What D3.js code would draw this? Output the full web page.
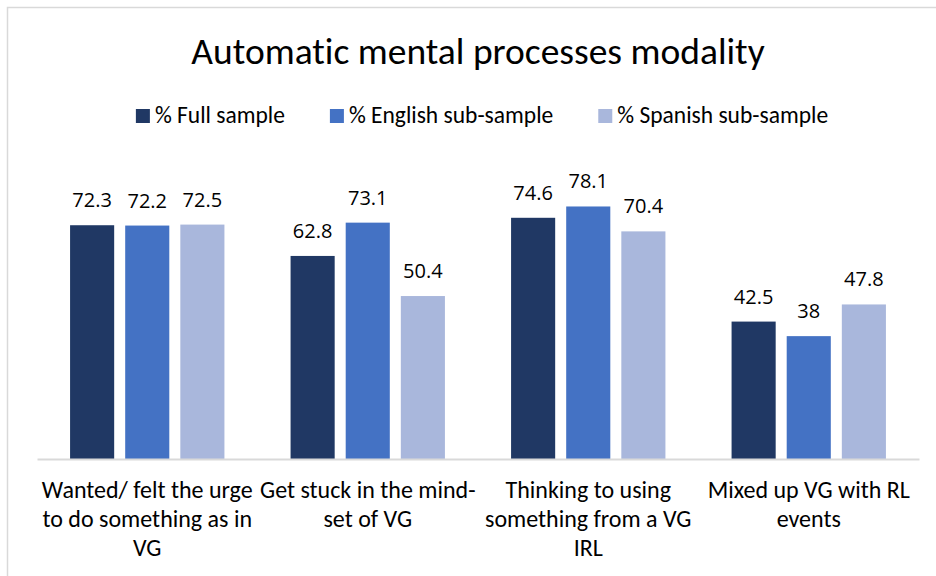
<!DOCTYPE html>
<html>
<head>
<meta charset="utf-8">
<script src="https://cdn.jsdelivr.net/npm/d3@7"></script>
<style>
  body { margin: 0; background: #fff; }
  svg { display: block; }
  .narrow { font-family: Carlito, Calibri, "Liberation Sans Narrow", "DejaVu Sans Condensed", "Open Sans", sans-serif; font-variant-ligatures: none; }
</style>
</head>
<body>
<div id="chart-container"></div>
<script>
// Chart data
const categories = [
  'Wanted/ felt the urge|to do something as in|VG',
  'Get stuck in the mind-|set of VG',
  'Thinking to using|something from a VG|IRL',
  'Mixed up VG with RL|events'
];
const seriesNames = ['% Full sample', '% English sub-sample', '% Spanish sub-sample'];
const fullSample = [72.3, 62.8, 74.6, 42.5];
const englishSample = [72.2, 73.1, 78.1, 38];
const spanishSample = [72.5, 50.4, 70.4, 47.8];
const seriesValues = [fullSample, englishSample, spanishSample];
const colors = ['#203864', '#4472c4', '#a9b7dc'];

const width = 936;
const height = 576;
const margin = { top: 168, right: 17, bottom: 117, left: 37 };

const svg = d3.select('#chart-container')
  .append('svg')
  .attr('width', width)
  .attr('height', height);

// Chart frame
svg.append('rect')
  .attr('x', 7.5)
  .attr('y', 7.5)
  .attr('width', 940)
  .attr('height', 600)
  .attr('fill', '#fff')
  .attr('stroke', '#d9d9d9')
  .attr('stroke-width', 1.5);

// Title
svg.append('text')
  .attr('class', 'narrow')
  .attr('x', 478)
  .attr('y', 64)
  .attr('text-anchor', 'middle')
  .style('font-size', '37.5px')
  .attr('fill', '#000')
  .text('Automatic mental processes modality');

// Scales
const xScale = d3.scaleBand()
  .domain(categories)
  .range([margin.left, width - margin.right])
  .paddingInner(0.3)
  .paddingOuter(0.15);

const xInner = d3.scaleBand()
  .domain(d3.range(seriesNames.length))
  .range([0, xScale.bandwidth()])
  .paddingInner(0.2);

const yScale = d3.scaleLinear()
  .domain([0, 90])
  .range([height - margin.bottom, margin.top]);

// Bars
const groups = svg.append('g')
  .selectAll('g')
  .data(categories)
  .join('g')
  .attr('transform', d => `translate(${xScale(d)},0)`);

groups.selectAll('rect')
  .data((d, i) => seriesValues.map((vals, s) => ({ s, v: vals[i] })))
  .join('rect')
  .attr('x', d => xInner(d.s))
  .attr('y', d => yScale(d.v))
  .attr('width', xInner.bandwidth())
  .attr('height', d => yScale(0) - yScale(d.v))
  .attr('fill', d => colors[d.s]);

// Value labels
groups.selectAll('text.value')
  .data((d, i) => seriesValues.map((vals, s) => ({ s, v: vals[i] })))
  .join('text')
  .attr('class', 'value')
  .attr('x', d => xInner(d.s) + xInner.bandwidth() / 2)
  .attr('y', d => yScale(d.v) - 18)
  .attr('text-anchor', 'middle')
  .style('font-family', '"Open Sans", sans-serif')
  .style('font-size', '20px')
  .attr('fill', '#000')
  .text(d => d.v);

// Category axis
const xAxis = svg.append('g')
  .attr('transform', `translate(0,${yScale(0)})`)
  .call(d3.axisBottom(xScale).tickSize(0).tickFormat(''));

xAxis.select('.domain')
  .attr('stroke', '#d9d9d9')
  .attr('stroke-width', 2);

xAxis.selectAll('.tick')
  .append('text')
  .attr('class', 'narrow')
  .attr('fill', '#000')
  .attr('text-anchor', 'middle')
  .style('font-size', '24px')
  .selectAll('tspan')
  .data(d => d.split('|'))
  .join('tspan')
  .attr('x', 0)
  .attr('y', (d, i) => 39 + i * 29)
  .text(d => d);

// Legend
const legend = svg.append('g').attr('class', 'legend');
const items = legend.selectAll('g')
  .data(seriesNames)
  .join('g');

items.append('rect')
  .attr('width', 14)
  .attr('height', 14)
  .attr('y', -14)
  .attr('fill', (d, i) => colors[i]);

items.append('text')
  .attr('class', 'narrow')
  .attr('x', 19)
  .style('font-size', '23.5px')
  .attr('fill', '#000')
  .text(d => d);

let offset = 0;
items.each(function () {
  const w = d3.select(this).select('text').node().getComputedTextLength() + 19;
  d3.select(this).attr('transform', `translate(${offset},0)`);
  offset += w + 45;
});
const legendWidth = offset - 45;
legend.attr('transform', `translate(${482 - legendWidth / 2},123)`);
</script>
</body>
</html>
